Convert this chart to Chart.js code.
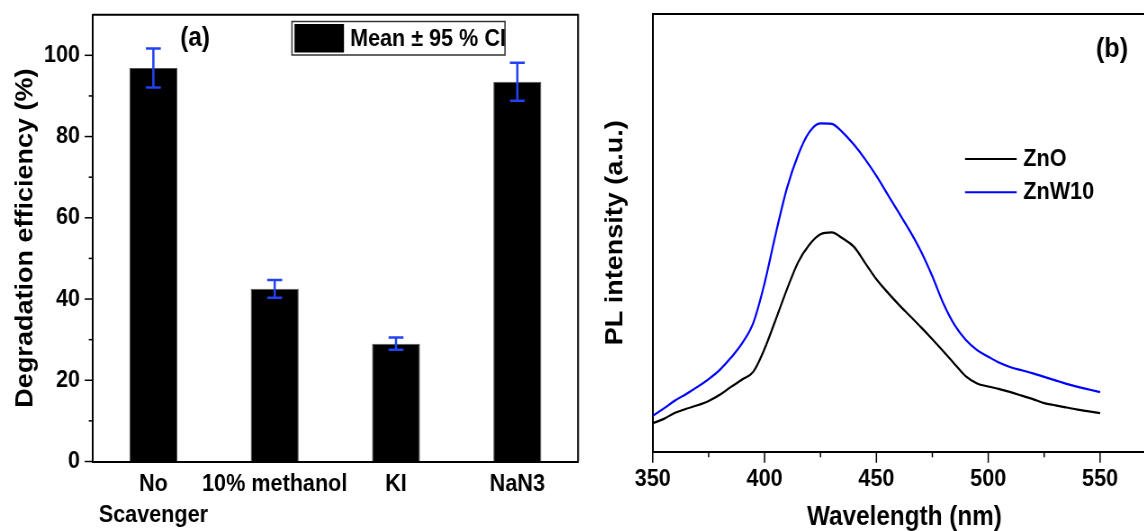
<!DOCTYPE html>
<html>
<head>
<meta charset="utf-8">
<script src="https://cdn.jsdelivr.net/npm/chart.js@4.4.1/dist/chart.umd.min.js"></script>
<style>
  html, body { margin: 0; padding: 0; background: #fff; overflow: hidden; }
  #wrap { position: relative; width: 1144px; height: 531px; overflow: hidden; }
  /* both panels are drawn wide and narrowed, which gives the tall condensed lettering */
  canvas { position: absolute; top: 0; transform: scaleX(0.9); transform-origin: 0 0; }
  #scav { left: 0; }
  #pl { left: 580px; }
</style>
</head>
<body>
<div id="wrap">
  <canvas id="scav" width="644" height="531"></canvas>
  <canvas id="pl" width="667" height="531"></canvas>
</div>
<script>
// (a) scavenger test: mean degradation efficiency and 95% CI half width
const scavengers = [['No', 'Scavenger'], '10% methanol', 'KI', 'NaN3'];
const efficiency = [96.9, 42.5, 29.0, 93.5];
const ci95 = [4.8, 2.2, 1.5, 4.7];
const effTicks = [0, 20, 40, 60, 80, 100];

// (b) PL spectra
const wavelength = [350, 355, 360, 365, 370, 375, 380, 385, 390, 395,
  400, 405, 410, 415, 420, 425, 430, 435, 440, 445,
  450, 455, 460, 465, 470, 475, 480, 485, 490, 495,
  500, 505, 510, 515, 520, 525, 530, 535, 540, 545, 550];
const znO = [6.5, 7.5, 8.9, 9.8, 10.6, 11.6, 13.0, 14.8, 16.5, 18.3,
  23.5, 30.2, 37.1, 43.3, 47.3, 49.7, 50.1, 48.7, 46.8, 43.1,
  39.4, 36.4, 33.6, 31.0, 28.4, 25.7, 22.9, 20.0, 17.2, 15.6,
  14.9, 14.3, 13.6, 12.8, 12.0, 11.1, 10.6, 10.1, 9.6, 9.2, 8.8];
const znW10 = [8.2, 9.9, 11.7, 13.2, 14.8, 16.6, 18.7, 21.5, 24.8, 29.5,
  38.5, 49.8, 60.2, 67.8, 73.0, 75.0, 74.9, 72.9, 70.1, 66.8,
  63.0, 58.8, 54.6, 50.4, 45.7, 40.1, 33.8, 28.9, 25.5, 23.2,
  21.7, 20.3, 19.3, 18.6, 17.9, 17.1, 16.3, 15.5, 14.8, 14.2, 13.6];
const wlTicks = [350, 400, 450, 500, 550];

const FONT = '"Liberation Sans", Arial, sans-serif';
Chart.defaults.font.family = FONT;
Chart.defaults.font.weight = 'bold';
Chart.defaults.color = '#000';

// outward tick marks, long on labelled values, short otherwise
function tickMarks(chart, axisId, majors, majorLen, minorLen) {
  const scale = chart.scales[axisId];
  const ctx = chart.ctx;
  ctx.save();
  ctx.strokeStyle = '#000';
  ctx.lineWidth = 1.5;
  scale.ticks.forEach(t => {
    if (t.value >= scale.max) return;
    const len = majors.includes(t.value) ? majorLen : minorLen;
    const p = scale.getPixelForValue(t.value);
    ctx.beginPath();
    if (scale.isHorizontal()) {
      ctx.moveTo(p, scale.top);
      ctx.lineTo(p, scale.top + len);
    } else {
      ctx.moveTo(scale.right, p);
      ctx.lineTo(scale.right - len, p);
    }
    ctx.stroke();
  });
  ctx.restore();
}

// closes the plot box on top and right
const frame = {
  id: 'frame',
  afterDraw(chart) {
    const { ctx, chartArea: a } = chart;
    ctx.save();
    ctx.strokeStyle = '#000';
    ctx.lineWidth = 2;
    ctx.beginPath();
    ctx.moveTo(a.left, a.top);
    ctx.lineTo(a.right, a.top);
    ctx.lineTo(a.right, a.bottom);
    ctx.stroke();
    ctx.restore();
  }
};

// panel letter
const panelTag = {
  id: 'panelTag',
  afterDraw(chart, args, opts) {
    const ctx = chart.ctx;
    ctx.save();
    ctx.font = 'bold ' + opts.size + 'px ' + FONT;
    ctx.fillStyle = '#000';
    ctx.textAlign = 'center';
    ctx.textBaseline = 'middle';
    ctx.fillText(opts.text, opts.x, opts.y);
    ctx.restore();
  }
};

const errorBars = {
  id: 'errorBars',
  afterDatasetsDraw(chart) {
    const { ctx, scales: { y } } = chart;
    const meta = chart.getDatasetMeta(0);
    ctx.save();
    ctx.strokeStyle = '#2342f2';
    ctx.lineWidth = 2.5;
    meta.data.forEach((bar, i) => {
      const top = y.getPixelForValue(efficiency[i] + ci95[i]);
      const bot = y.getPixelForValue(efficiency[i] - ci95[i]);
      ctx.beginPath();
      ctx.moveTo(bar.x, top); ctx.lineTo(bar.x, bot);
      ctx.moveTo(bar.x - 8.3, top); ctx.lineTo(bar.x + 8.3, top);
      ctx.moveTo(bar.x - 8.3, bot); ctx.lineTo(bar.x + 8.3, bot);
      ctx.stroke();
    });
    ctx.restore();
  }
};

// boxed legend with a filled swatch
const barLegend = {
  id: 'barLegend',
  afterDraw(chart) {
    const ctx = chart.ctx;
    const ds = chart.data.datasets[0];
    ctx.save();
    ctx.strokeStyle = '#333';
    ctx.lineWidth = 1.5;
    ctx.strokeRect(324.4, 21.5, 236.7, 33.5);
    ctx.fillStyle = ds.backgroundColor;
    ctx.fillRect(327.2, 24, 55, 28.5);
    ctx.font = 'bold 24px ' + FONT;
    ctx.fillStyle = '#000';
    ctx.textBaseline = 'middle';
    ctx.fillText(ds.label, 388.9, 39);
    ctx.restore();
  }
};

const barTicks = {
  id: 'barTicks',
  afterDraw(chart) { tickMarks(chart, 'y', effTicks, 8.9, 4.4); }
};

new Chart(document.getElementById('scav'), {
  type: 'bar',
  data: {
    labels: scavengers,
    datasets: [{
      label: 'Mean ± 95 % CI',
      data: efficiency,
      backgroundColor: '#000',
      borderColor: '#555',
      borderWidth: 1,
      barPercentage: 0.395,
      categoryPercentage: 1
    }]
  },
  options: {
    responsive: false,
    animation: false,
    events: [],
    layout: { padding: { top: 14.7, right: 1.8, left: 0, bottom: 0 } },
    plugins: {
      legend: { display: false },
      tooltip: { enabled: false },
      panelTag: { text: '(a)', x: 216.7, y: 39, size: 27 }
    },
    scales: {
      x: {
        grid: { display: false, drawTicks: false },
        border: { color: '#000', width: 2 },
        ticks: {
          font: { size: 24, weight: 'bold', lineHeight: 1.3 },
          padding: 6.9, maxRotation: 0, minRotation: 0, autoSkip: false
        },
        afterFit: s => { s.height = 69.5; }
      },
      y: {
        min: 0, max: 110,
        // invisible tick marks only push the labels away from the axis
        grid: { display: true, drawOnChartArea: false, drawTicks: true, tickLength: 14.1, tickColor: 'rgba(0,0,0,0)' },
        border: { color: '#000', width: 2 },
        ticks: {
          stepSize: 10, padding: 0,
          font: { size: 24, weight: 'bold' },
          callback: v => effTicks.includes(v) ? v : ''
        },
        title: {
          display: true, text: 'Degradation efficiency (%)',
          font: { size: 27, weight: 'bold', lineHeight: 1 },
          padding: { top: 15.4, bottom: 0 }
        },
        afterFit: s => { s.width = 103; }
      }
    }
  },
  plugins: [errorBars, frame, barLegend, barTicks, panelTag]
});

// line legend at upper right of the spectrum plot
const lineLegend = {
  id: 'lineLegend',
  afterDraw(chart) {
    const ctx = chart.ctx;
    ctx.save();
    ctx.font = 'bold 24px ' + FONT;
    ctx.textBaseline = 'middle';
    chart.data.datasets.forEach((ds, i) => {
      const y = 159 + i * 33.3;
      ctx.strokeStyle = ds.borderColor;
      ctx.lineWidth = 2;
      ctx.beginPath();
      ctx.moveTo(427.8, y);
      ctx.lineTo(485.2, y);
      ctx.stroke();
      ctx.fillStyle = '#000';
      ctx.fillText(ds.label, 492.6, y);
    });
    ctx.restore();
  }
};

const plTicks = {
  id: 'plTicks',
  afterDraw(chart) { tickMarks(chart, 'x', wlTicks, 11.1, 5.6); }
};

new Chart(document.getElementById('pl'), {
  type: 'line',
  data: {
    datasets: [{
      label: 'ZnO',
      data: wavelength.map((w, i) => ({ x: w, y: znO[i] })),
      borderColor: '#000',
      borderWidth: 2.2,
      pointRadius: 0,
      cubicInterpolationMode: 'monotone'
    }, {
      label: 'ZnW10',
      data: wavelength.map((w, i) => ({ x: w, y: znW10[i] })),
      borderColor: '#0000ff',
      borderWidth: 2.2,
      pointRadius: 0,
      cubicInterpolationMode: 'monotone'
    }]
  },
  options: {
    responsive: false,
    animation: false,
    events: [],
    layout: { padding: { top: 14, right: 27, left: 0, bottom: 0 } },
    plugins: {
      legend: { display: false },
      tooltip: { enabled: false },
      panelTag: { text: '(b)', x: 591.1, y: 49, size: 28 }
    },
    scales: {
      x: {
        type: 'linear',
        min: 350, max: 575,
        grid: { display: false, drawTicks: false },
        border: { color: '#000', width: 2 },
        ticks: {
          stepSize: 25, padding: 12.9, maxRotation: 0, autoSkip: false,
          font: { size: 24, weight: 'bold' },
          callback: v => wlTicks.includes(v) ? v : ''
        },
        title: {
          display: true, text: 'Wavelength (nm)',
          font: { size: 27, weight: 'bold', lineHeight: 1 },
          padding: { top: 0, bottom: 0 }
        },
        afterFit: s => { s.height = 79.3; }
      },
      y: {
        min: 0, max: 100,
        grid: { display: false, drawTicks: false },
        border: { color: '#000', width: 2 },
        ticks: { display: false },
        title: {
          display: true, text: 'PL intensity (a.u.)',
          font: { size: 27, weight: 'bold', lineHeight: 1 },
          padding: { top: 26.5, bottom: 0 }
        },
        afterFit: s => { s.width = 80.8; }
      }
    }
  },
  plugins: [frame, lineLegend, plTicks, panelTag]
});
</script>
</body>
</html>
